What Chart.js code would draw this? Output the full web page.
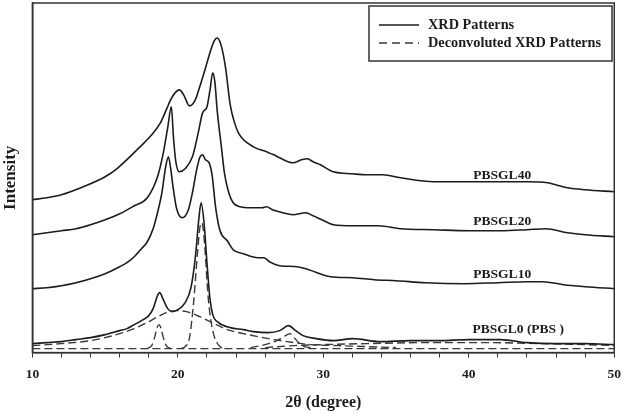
<!DOCTYPE html>
<html>
<head>
<meta charset="utf-8">
<script src="https://cdn.jsdelivr.net/npm/chart.js@4.4.1/dist/chart.umd.min.js"></script>
<style>
  html, body { margin: 0; padding: 0; background: #fff; }
  #wrap { width: 625px; height: 414px; }
</style>
</head>
<body>
<div id="wrap"><canvas id="xrd_chart"></canvas></div>
<script>
// 2-theta positions and intensities (arbitrary units, curves stacked by offset)
var pbsgl40Angle = [10, 11, 12, 13.5, 15, 15.8, 17.4, 18.2, 18.8, 19.2, 19.5, 19.8, 20.1, 20.4, 20.8, 21.2, 21.5, 21.9, 22.2, 22.5, 22.7, 22.9, 23.1, 23.3, 23.6, 23.9, 24.2, 25.2, 26.1, 26.6, 27, 27.9, 28.5, 28.9, 29.3, 29.8, 30.7, 32, 33, 34.1, 35.3, 37.6, 40, 42.2, 44, 45.4, 46.8, 48, 50];
var pbsgl40Intensity = [153, 155, 158, 166, 176, 184, 206, 218, 230, 243, 253, 260, 263, 258, 247, 253, 266, 285, 300, 312, 315, 311, 300, 283, 248, 230, 219, 206, 201, 198, 195, 190, 193, 194, 191, 188, 181, 179, 178, 178, 175, 171, 171, 171, 171, 170, 165, 163, 161];

var pbsgl20Angle = [10, 11, 12, 13, 14, 15, 16, 17, 17.9, 18.6, 19, 19.3, 19.55, 19.7, 19.85, 20.1, 20.5, 21, 21.4, 21.7, 22, 22.2, 22.4, 22.55, 22.7, 23, 23.2, 23.5, 23.8, 24.3, 25, 25.8, 26.1, 26.5, 27.2, 27.9, 28.8, 29.3, 29.9, 30.7, 32, 33.8, 35.3, 37.6, 40, 42.2, 44, 45.3, 46.8, 48, 50];
var pbsgl20Intensity = [118, 120, 122, 124, 128, 133, 139, 147, 155, 176, 200, 225, 246, 215, 192, 181, 184, 196, 220, 240, 246, 262, 280, 270, 243, 205, 180, 160, 150, 146, 145, 145, 146, 143, 140, 138, 140, 137, 133, 128, 127, 127, 124, 123, 122, 122, 123, 124, 120, 118, 116];

var pbsgl10Angle = [10, 11, 12, 13, 14, 15, 16, 16.5, 17, 17.5, 17.9, 18.3, 18.6, 18.9, 19.15, 19.35, 19.5, 19.65, 19.9, 20.3, 20.7, 21, 21.25, 21.5, 21.7, 21.9, 22.15, 22.35, 22.6, 22.9, 23.4, 23.8, 24.5, 25.5, 25.9, 26.3, 27, 28.2, 29, 30.5, 32, 33.5, 35, 37, 39.7, 42, 44, 45.1, 46.5, 48, 50];
var pbsgl10Intensity = [64, 65, 67, 70, 74, 79, 86, 90, 96, 104, 111, 124, 140, 160, 185, 196, 185, 168, 145, 135, 142, 160, 180, 195, 198, 193, 190, 178, 145, 122, 112, 103, 99, 95, 95, 91, 87, 86, 83, 76, 75, 73, 72, 70, 69, 70, 71, 71, 68, 66, 64];

var pbsgl0Angle = [10, 11, 12, 13, 14, 15, 16, 16.5, 17, 17.5, 18, 18.3, 18.6, 18.75, 19, 19.3, 19.6, 20, 20.5, 20.9, 21.2, 21.45, 21.6, 21.8, 22, 22.2, 22.4, 22.8, 23.6, 24.5, 25.2, 26.2, 27, 27.6, 28.1, 28.6, 29.5, 30.7, 32, 33.9, 36, 38, 40, 42.2, 44, 46, 48, 50];
var pbsgl0Intensity = [9, 10, 11, 13, 15, 18, 22, 24, 28, 32, 37, 44, 57, 60, 53, 44, 41, 43, 50, 65, 95, 135, 150, 130, 90, 55, 38, 30, 25, 23, 21, 20, 22, 27, 22, 17, 14, 12, 14, 11, 12, 12, 13, 13, 10, 9, 9, 8];

// deconvoluted components of PBSGL0
var amorphAngle = [10, 12, 14, 15, 16, 17, 18, 18.5, 19.2, 19.9, 20.6, 21.5, 22.5, 23.4, 24.5, 25.5, 26.6, 28, 29.1, 31, 33, 35];
var amorphIntensity = [7, 9, 12, 15, 19, 24, 31, 35, 40, 42, 41, 36, 29, 23, 19, 16, 13, 10, 8, 7, 6, 5];

var peak187Angle = [17.9, 18.2, 18.4, 18.55, 18.7, 18.85, 19, 19.2, 19.5];
var peak187Intensity = [4, 7, 15, 24, 28, 24, 15, 7, 4];

var peak216Angle = [20.2, 20.5, 20.8, 21.1, 21.35, 21.55, 21.65, 21.8, 22.1, 22.4, 22.9, 23.3];
var peak216Intensity = [4, 6, 15, 53, 100, 128, 130, 115, 53, 22, 6, 4];

var peak276Angle = [25, 26, 26.8, 27.3, 27.7, 28, 28.3, 28.7, 29.2];
var peak276Intensity = [5, 8, 12, 16, 19, 15, 10, 6, 5];

var broadAngle = [26, 28, 30, 33, 37, 41, 45, 48, 50];
var broadIntensity = [5, 7, 8, 9, 10, 10, 9, 8, 7];

var baseAngle = [10, 50];
var baseIntensity = [4, 4];

var seriesNames = ['PBSGL40', 'PBSGL20', 'PBSGL10', 'PBSGL0 (PBS )'];
var legendNames = ['XRD Patterns', 'Deconvoluted XRD Patterns'];

var serif = "'Liberation Serif', 'DejaVu Serif', serif";
var ink = '#1c1c1c';
var dashInk = '#3a3a3a';

function pts(xs, ys) {
    return xs.map(function (x, i) { return { x: x, y: ys[i] }; });
}

function solid(label, xs, ys) {
    return {
        label: label,
        data: pts(xs, ys),
        borderColor: ink,
        borderWidth: 1.6,
        pointRadius: 0,
        fill: false,
        cubicInterpolationMode: 'monotone'
    };
}

function dashed(label, xs, ys) {
    return {
        label: label,
        data: pts(xs, ys),
        borderColor: dashInk,
        borderWidth: 1.4,
        borderDash: [8, 4],
        pointRadius: 0,
        fill: false,
        cubicInterpolationMode: 'monotone'
    };
}

// frame, legend box and curve names
var extras = {
    id: 'extras',
    afterDraw: function (chart) {
        var ctx = chart.ctx;
        var a = chart.chartArea;
        var xs = chart.scales.x, ys = chart.scales.y;
        ctx.save();
        ctx.strokeStyle = '#333';
        ctx.lineWidth = 1.5;
        ctx.strokeRect(a.left, a.top, a.right - a.left, a.bottom - a.top);

        // legend
        ctx.fillStyle = '#fff';
        ctx.fillRect(369, 6, 243, 55);
        ctx.strokeRect(369, 6, 243, 55);
        ctx.lineWidth = 1.6;
        ctx.strokeStyle = ink;
        ctx.beginPath(); ctx.moveTo(379, 25); ctx.lineTo(419, 25); ctx.stroke();
        ctx.lineWidth = 1.4;
        ctx.strokeStyle = dashInk;
        ctx.setLineDash([8, 5]);
        ctx.beginPath(); ctx.moveTo(379, 43); ctx.lineTo(419, 43); ctx.stroke();
        ctx.setLineDash([]);
        ctx.fillStyle = ink;
        ctx.font = 'bold 14.3px ' + serif;
        ctx.textBaseline = 'middle';
        ctx.textAlign = 'left';
        ctx.fillText(legendNames[0], 428, 25);
        ctx.fillText(legendNames[1], 428, 43);

        // curve names
        var spots = [[42.3, 177], [42.3, 131], [42.3, 78], [43.4, 23]];
        ctx.font = 'bold 13.5px ' + serif;
        ctx.textAlign = 'center';
        seriesNames.forEach(function (n, i) {
            ctx.fillText(n, xs.getPixelForValue(spots[i][0]), ys.getPixelForValue(spots[i][1]));
        });
        ctx.restore();
    }
};

var cntxt = document.getElementById('xrd_chart');

var myChart = new Chart(cntxt, {
    type: 'line',
    data: {
        datasets: [
            solid(seriesNames[0], pbsgl40Angle, pbsgl40Intensity),
            solid(seriesNames[1], pbsgl20Angle, pbsgl20Intensity),
            solid(seriesNames[2], pbsgl10Angle, pbsgl10Intensity),
            solid(seriesNames[3], pbsgl0Angle, pbsgl0Intensity),
            dashed('amorphous', amorphAngle, amorphIntensity),
            dashed('18.7', peak187Angle, peak187Intensity),
            dashed('21.6', peak216Angle, peak216Intensity),
            dashed('27.6', peak276Angle, peak276Intensity),
            dashed('broad', broadAngle, broadIntensity),
            dashed('baseline', baseAngle, baseIntensity)
        ]
    },
    options: {
        responsive: true,
        maintainAspectRatio: false,
        animation: false,
        layout: { padding: { top: 3, right: 5, left: 0, bottom: 0 } },
        plugins: {
            legend: { display: false },
            tooltip: { enabled: false }
        },
        scales: {
            x: {
                type: 'linear',
                min: 10,
                max: 50,
                ticks: {
                    stepSize: 2,
                    autoSkip: false,
                    maxRotation: 0,
                    padding: 4,
                    color: ink,
                    font: { family: serif, size: 13.5, weight: 'bold' },
                    callback: function (v) { return v % 10 === 0 ? v : ''; }
                },
                grid: {
                    drawOnChartArea: false,
                    drawTicks: true,
                    tickLength: 10,
                    tickBorderDash: [4, 30],
                    color: '#333'
                },
                border: { display: true, color: '#333', width: 1.5 },
                title: {
                    display: true,
                    text: '2θ (degree)',
                    color: ink,
                    font: { family: serif, size: 16, weight: 'bold' },
                    padding: { top: 6, bottom: 2 }
                }
            },
            y: {
                min: 0,
                max: 350,
                ticks: { display: false },
                grid: { display: false, drawTicks: false },
                border: { display: true, color: '#333', width: 1.5 },
                title: {
                    display: true,
                    text: 'Intensity',
                    color: ink,
                    font: { family: serif, size: 17, weight: 'bold' },
                    padding: { top: 0, bottom: 12 }
                }
            }
        }
    },
    plugins: [extras]
});
</script>
</body>
</html>
